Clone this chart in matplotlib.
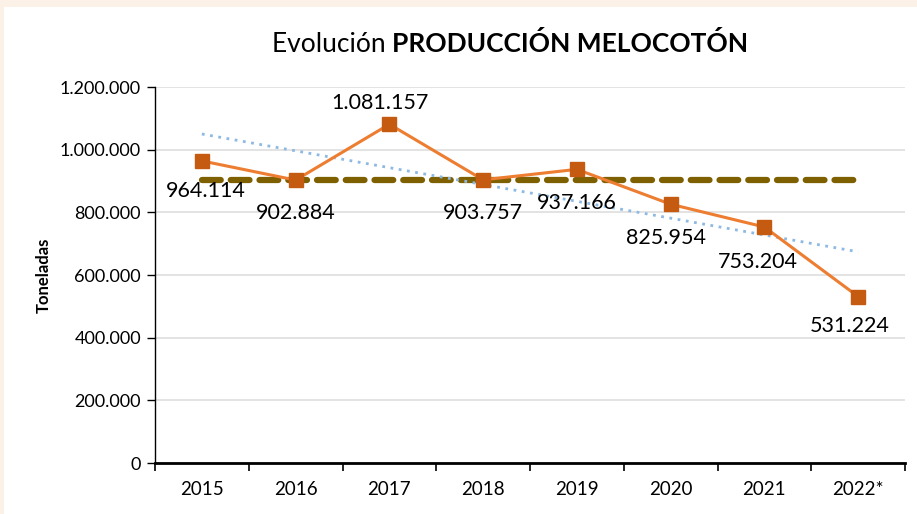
import matplotlib
matplotlib.use('Agg')
from matplotlib import pyplot as plt
from matplotlib.ticker import FuncFormatter
import numpy as np

years = ['2015', '2016', '2017', '2018', '2019', '2020', '2021', '2022*']
produccion = [964114, 902884, 1081157, 903757, 937166, 825954, 753204, 531224]
labels = ['964.114', '902.884', '1.081.157', '903.757', '937.166', '825.954', '753.204', '531.224']
# label offsets (points) relative to each marker
label_dx = [3, 0, -7, 0, 0, -3, -5, -6]
label_dy = [-22, -24, 15, -24, -24, -24, -25, -21]
media = [902000] * 8
tendencia = [1050000, 674000]

plt.rcParams['font.family'] = ['Lato', 'DejaVu Sans']

fig = plt.figure(figsize=(9.17, 5.14), dpi=100)
fig.patch.set_facecolor('#fcf1e7')
# white chart panel
fig.patches.append(plt.Rectangle((4 / 917, 0), 1, 1 - 7 / 514, transform=fig.transFigure,
                                 facecolor='white', edgecolor='none', zorder=-1))

ax = fig.add_axes([155 / 917, 51 / 514, 750 / 917, 376 / 514])
ax.set_zorder(1)
ax.set_facecolor('white')
x = np.arange(len(years))

ax.set_xlim(-0.5, len(years) - 0.5)
ax.set_ylim(0, 1200000)
ax.set_yticks(np.arange(0, 1200001, 200000))
ax.yaxis.set_major_formatter(FuncFormatter(lambda v, p: '0' if v == 0 else '{:,.0f}'.format(v).replace(',', '.')))
ax.grid(axis='y', color='#dedede', linewidth=1.2)
ax.set_axisbelow(True)

ax.set_xticks(x)
ax.set_xticklabels(years, fontsize=13.5)
ax.set_xticks(np.arange(-0.5, len(years)), minor=True)
ax.tick_params(axis='x', which='major', length=0, pad=13)
ax.tick_params(axis='x', which='minor', length=6, width=1.2, color='black')
ax.tick_params(axis='y', length=6, width=1, labelsize=13, pad=4)

for s in ['top', 'right']:
    ax.spines[s].set_visible(False)
ax.spines['bottom'].set_linewidth(2)
ax.spines['left'].set_linewidth(1)

ax.set_ylabel('Toneladas', fontsize=12, fontweight='bold', labelpad=6)

ax.plot(x, media, linestyle=(0, (3, 1.6)), color='#7f6000', linewidth=4.5,
        dash_capstyle='round', zorder=2)
ax.plot([x[0], x[-1]], tendencia, linestyle=(0, (1, 2)), color='#8db9e2', linewidth=2, zorder=3)
ax.plot(x, produccion, color='#ed7d31', linewidth=2.2, marker='s', markersize=10,
        markerfacecolor='#c55a11', markeredgecolor='#c55a11', zorder=4)

for i, lab in enumerate(labels):
    ax.annotate(lab, (x[i], produccion[i]), xytext=(label_dx[i], label_dy[i]),
                textcoords='offset points', ha='center', va='center', fontsize=15.5, zorder=5)

t1 = fig.text(272 / 917, 1 - 44 / 514, 'Evolución ', fontsize=19, ha='left', va='center')
ax.annotate('PRODUCCIÓN MELOCOTÓN', xy=(1, 0.5), xycoords=t1, fontsize=19,
            fontweight='bold', ha='left', va='center', annotation_clip=False)

fig.savefig('out.png', dpi=100, facecolor=fig.get_facecolor())
